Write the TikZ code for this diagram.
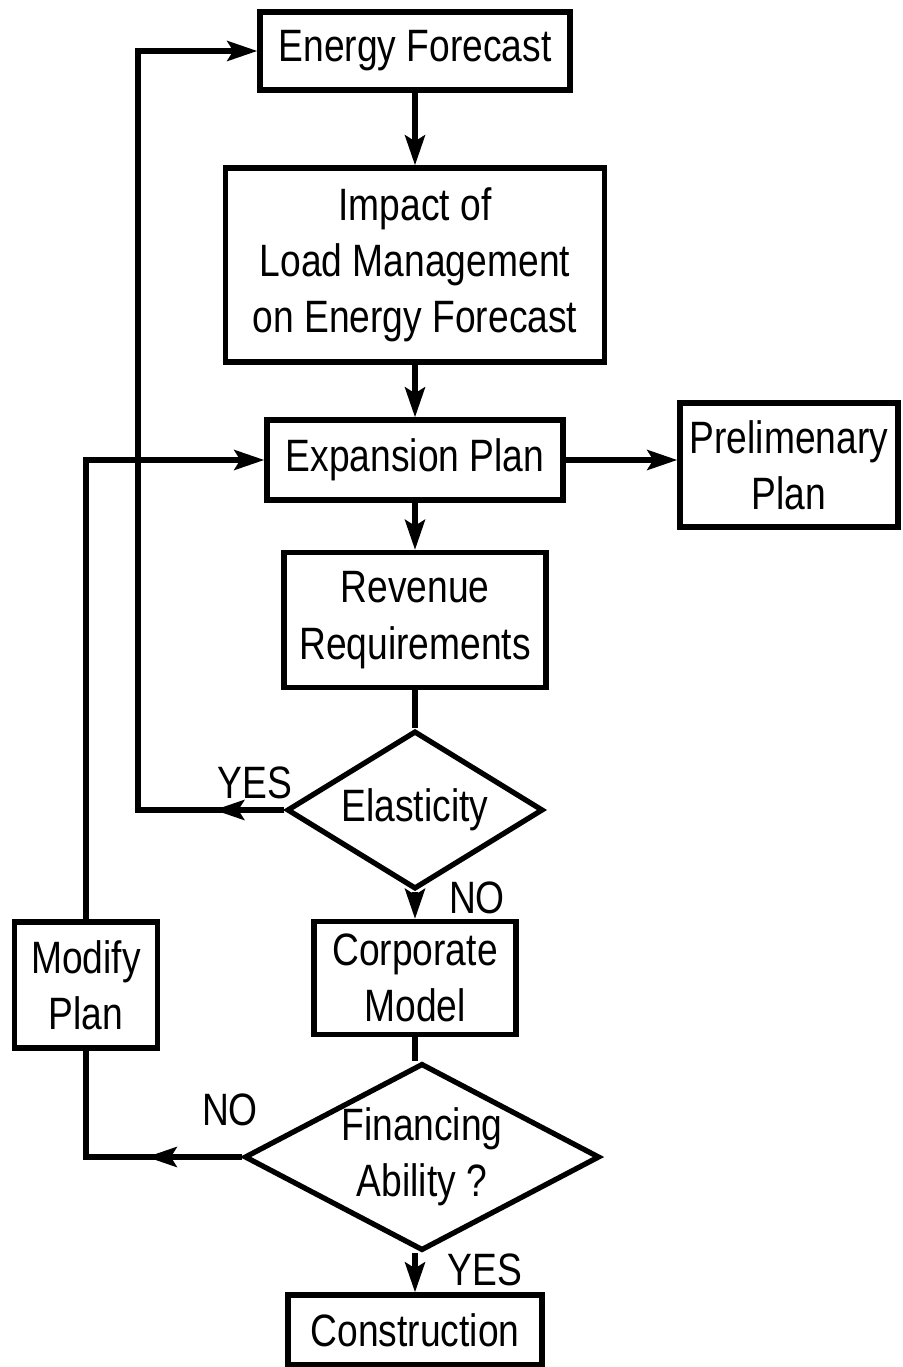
\documentclass[tikz,border=0pt]{standalone}
\usepackage{fontspec}
\setmainfont[FakeStretch=0.82]{Liberation Sans}
\usetikzlibrary{arrows.meta,shapes.geometric}
\begin{document}
\begin{tikzpicture}[x=0.01cm, y=-0.01cm, line width=1.5pt,
  >={Stealth[length=3mm,width=2mm,inset=0.6mm]},
  every node/.style={font=\fontsize{12.9}{16}\selectfont, align=center},
  box/.style={draw, inner sep=0pt},
  dia/.style={draw, diamond, inner sep=0pt}]
\useasboundingbox (0,0) rectangle (902,1367);
\draw (415,51) node[box, minimum width=3.1cm, minimum height=0.78cm] (0) {Energy Forecast};
\draw (415,265) node[box, minimum width=3.79cm, minimum height=1.94cm] (1) {Impact of\\Load Management\\on Energy Forecast}; \draw[->] (0) -- (1);
\draw (415,460) node[box, minimum width=2.96cm, minimum height=0.8cm] (2) {Expansion Plan}; \draw[->] (1) -- (2);
\draw (789,465) node[box, minimum width=2.18cm, minimum height=1.24cm] (3) {Prelimenary\\Plan}; \draw[->] (2.east) -- (2.east -| 3.west);
\draw (415,620) node[box, minimum width=2.62cm, minimum height=1.35cm] (4) {Revenue\\Requirements}; \draw[->] (2) -- (4);
\draw (415,810) node[dia, aspect=1.62, minimum width=2.56cm, minimum height=1.58cm] (5) {Elasticity}; \draw (4) -- (5);
\draw (415,978) node[box, minimum width=2.02cm, minimum height=1.13cm] (6) {Corporate\\Model}; \draw[->] (5) -- (6);
\draw (86,985) node[box, minimum width=1.43cm, minimum height=1.26cm] (7) {Modify\\Plan};
\draw (422,1157) node[dia, aspect=1.86, minimum width=3.55cm, minimum height=1.87cm] (8) {Financing\\Ability ?}; \draw (6) -- (6 |- 8.north);
\draw (415,1330) node[box, minimum width=2.54cm, minimum height=0.7cm] (9) {Construction}; \draw[->] (8.south -| 9) -- (9);
% feedback loops
\coordinate (l1) at (138,0);
\draw[->] (5.west) -- (5.west -| l1) |- (0.west); \draw[->] (5.west) -- ++(-70,0);
\draw (8.west) -- (8.west -| 7.south) -- (7.south); \draw[->] (8.west) -- ++(-95,0);
\draw[->] (7.north) |- (2.west);
\draw (255,783) node (y1) {YES};
\draw (477,898) node (n1) {NO};
\draw (230,1110) node (n2) {NO};
\draw (485,1270) node (y2) {YES};
\end{tikzpicture}
\end{document}
